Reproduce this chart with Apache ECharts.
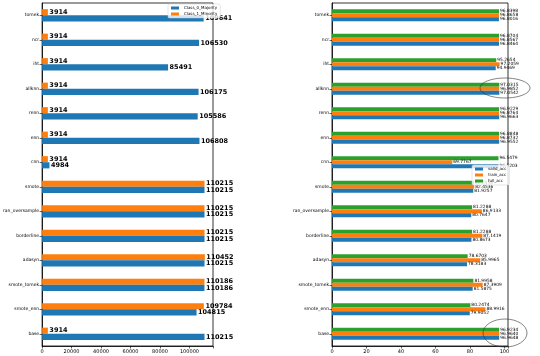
<!DOCTYPE html>
<html><head><meta charset="utf-8">
<script src="https://cdn.jsdelivr.net/npm/echarts@6/dist/echarts.min.js"></script>
<style>html,body{margin:0;padding:0;background:#fff}#c{width:540px;height:356px}</style>
</head><body><div id="c"></div>
<script>
const categories = ['base','smote_enn','smote_tomek','adasyn','borderline','ran_oversample','smote','cnn','enn','renn','allknn','iht','ncr','tomek'];
const class0Majority = [110215,104815,110186,110215,110215,110215,110215,4984,106808,105586,106175,85491,106530,109641];
const class1Minority = [3914,109784,110186,110452,110215,110215,110215,3914,3914,3914,3914,3914,3914,3914];
const validAcc = [96.9648,79.9052,81.5875,78.3183,80.8673,80.7647,81.9257,96.5203,96.9552,96.9663,97.0542,94.9469,96.8464,96.8016];
const trainAcc = [96.9640,88.9916,87.3909,85.9965,87.1419,86.9133,82.4536,69.7767,96.8732,96.8764,96.9852,97.2059,96.8567,96.8658];
const fullAcc = [96.9234,80.2474,81.9958,78.6703,81.2288,81.2288,82.2456,96.5479,96.8848,96.9229,97.0315,95.2654,96.8704,96.8398];
const leftTicks = [0,20000,40000,60000,80000,100000];
const rightTicks = [0,20,40,60,80,100];

const C_BLUE = '#1f77b4', C_ORANGE = '#ff7f0e', C_GREEN = '#2ca02c';
const FONT = 'DejaVu Sans';

function xAxisCfg(idx, max, interval, ticks) {
  return {
    type: 'value', gridIndex: idx, min: 0, max: max, interval: interval,
    splitLine: {show: false},
    axisLine: {show: true, lineStyle: {color: '#000', width: 0.8}},
    axisTick: {show: true, length: 2.5, lineStyle: {color: '#000', width: 0.6}},
    axisLabel: {fontSize: 5, color: '#000', fontFamily: FONT, margin: 3,
      formatter: v => ticks.indexOf(v) >= 0 ? String(v) : ''}
  };
}
function yAxisCfg(idx) {
  return {
    type: 'category', gridIndex: idx, data: categories,
    axisLine: {show: true, lineStyle: {color: '#000', width: 0.8}},
    axisTick: {show: true, alignWithLabel: true, length: 2.5, lineStyle: {color: '#000', width: 0.6}},
    axisLabel: {fontSize: 4.5, color: '#000', fontFamily: FONT, margin: 3}
  };
}
const leftLabel = {show: true, position: 'right', distance: 1.5, fontSize: 6.5, fontWeight: 'bold', color: '#000', fontFamily: FONT};
const rightLabel = {show: true, position: 'right', distance: 1, fontSize: 4.4, color: '#000', fontFamily: FONT,
  formatter: p => p.value.toFixed(4)};
const legendStyle = {
  orient: 'vertical', icon: 'rect', itemWidth: 8, itemHeight: 3, itemGap: 2,
  textStyle: {fontSize: 4, color: '#000', fontFamily: FONT},
  backgroundColor: 'rgba(255,255,255,0.8)', borderColor: '#ccc', borderWidth: 0.5, borderRadius: 1.5, padding: [2, 3], z: 10
};

const chart = echarts.init(document.getElementById('c'), null, {renderer: 'canvas'});
chart.setOption({
  animation: false,
  backgroundColor: '#fff',
  textStyle: {fontFamily: FONT},
  grid: [
    {left: 37, top: 3, width: 176, height: 343, show: true, borderColor: '#000', borderWidth: 0.8},
    {left: 332, top: 3, width: 176, height: 343, show: true, borderColor: '#000', borderWidth: 0.8}
  ],
  xAxis: [xAxisCfg(0, 115975, 20000, leftTicks), xAxisCfg(1, 102.07, 20, rightTicks)],
  yAxis: [yAxisCfg(0), yAxisCfg(1)],
  legend: [
    Object.assign({data: ['Class_0_Majority', 'Class_1_Minority'], left: 168, top: 4}, legendStyle),
    Object.assign({data: ['valid_acc', 'train_acc', 'full_acc'], left: 472, top: 165}, legendStyle)
  ],
  series: [
    {name: 'Class_1_Minority', type: 'bar', xAxisIndex: 0, yAxisIndex: 0, data: class1Minority,
     itemStyle: {color: C_ORANGE}, barWidth: '25%', barGap: '0%', label: leftLabel},
    {name: 'Class_0_Majority', type: 'bar', xAxisIndex: 0, yAxisIndex: 0, data: class0Majority,
     itemStyle: {color: C_BLUE}, barWidth: '25%', barGap: '0%', label: leftLabel},
    {name: 'full_acc', type: 'bar', xAxisIndex: 1, yAxisIndex: 1, data: fullAcc,
     itemStyle: {color: C_GREEN}, barWidth: '16%', barGap: '0%', label: rightLabel},
    {name: 'train_acc', type: 'bar', xAxisIndex: 1, yAxisIndex: 1, data: trainAcc,
     itemStyle: {color: C_ORANGE}, barWidth: '16%', barGap: '0%', label: rightLabel},
    {name: 'valid_acc', type: 'bar', xAxisIndex: 1, yAxisIndex: 1, data: validAcc,
     itemStyle: {color: C_BLUE}, barWidth: '16%', barGap: '0%', label: rightLabel}
  ],
  graphic: [
    {type: 'ellipse', shape: {cx: 505, cy: 88, rx: 25, ry: 10}, style: {fill: 'none', stroke: '#333', lineWidth: 0.6}, z: 100},
    {type: 'ellipse', shape: {cx: 505, cy: 333, rx: 22, ry: 14}, style: {fill: 'none', stroke: '#333', lineWidth: 0.6}, z: 100}
  ]
});
</script></body></html>
